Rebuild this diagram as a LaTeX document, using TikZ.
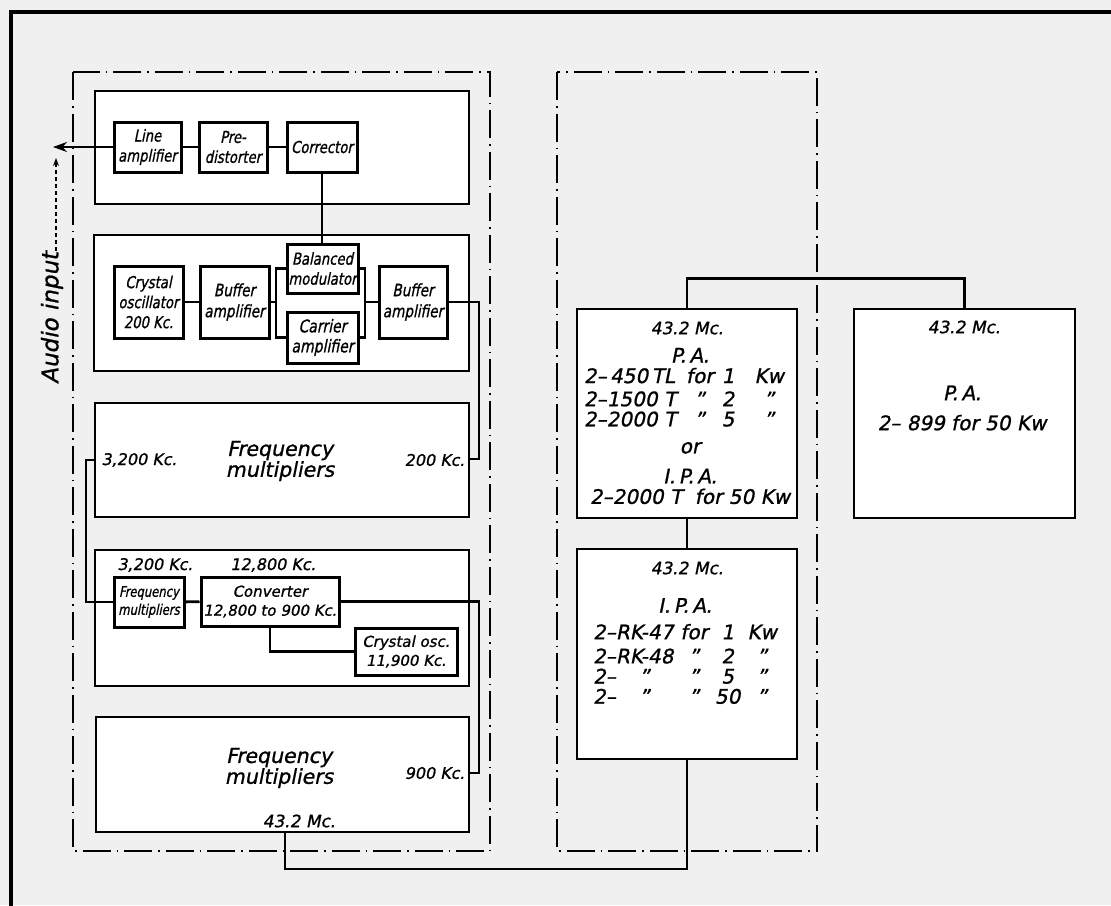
\documentclass[tikz,border=0pt]{standalone}
\usepackage{fontspec}
\setmainfont{DejaVu Sans}[FakeSlant=0.2]
\newfontfamily\letra{DejaVu Sans}[FakeSlant=0.2,FakeBold=1]
\newfontfamily\letraestrecha{DejaVu Sans}[FakeSlant=0.2,FakeStretch=0.8,FakeBold=1]
\usetikzlibrary{arrows.meta}

\begin{document}
\begin{tikzpicture}[x=1pt, y=-1pt, line width=2.8pt, >={Stealth[length=14pt,width=10pt]},
  tam/.style 2 args={minimum width=#1pt, minimum height=#2pt},
  etapa/.style={draw, fill=white, line width=2.3pt, inner sep=0pt},
  caja/.style={draw, fill=white, line width=3pt, inner sep=0pt, align=center,
    font=\letraestrecha\fontsize{16.5}{20}\selectfont},
  texto/.style={inner sep=0pt, align=center, font=\letra\fontsize{16}{18}\selectfont},
  grande/.style={texto, font=\letra\fontsize{20.5}{19}\selectfont},
  frec/.style={texto, font=\letra\fontsize{17}{18}\selectfont},
  tubos/.style={texto, font=\letra\fontsize{20}{21}\selectfont},
  panel/.style={line width=1.5pt, dash pattern=on 28pt off 6pt on 1.5pt off 6pt}]
\useasboundingbox (0,0) rectangle (1111,905);
\clip (0,0) rectangle (1111,905);
\fill [black!6] (0,0) rectangle (1111,905);
\draw [line width=4pt] (11,12) rectangle (1140,940);
% Paneles
\draw [panel] (73,72) rectangle (490,851);
\draw [panel] (557,72) rectangle (817,851);
% Etapas
\node [etapa, tam={374}{113}] (etapaA) at (282,147.5) {};
\node [etapa, tam={375}{136}] (etapaB) at (281.5,303) {};
\node [etapa, tam={374}{114}] (etapaC) at (282,460) {};
\node [etapa, tam={374}{136}] (etapaD) at (282,618) {};
\node [etapa, tam={373}{115}] (etapaE) at (282.5,774.5) {};
\node [etapa, tam={220}{209}] (pa1) at (687,413.5) {};
\node [etapa, tam={221}{209}] (pa2) at (964.5,413.5) {};
\node [etapa, tam={220}{210}] (ipa) at (687,654) {};
% Nodos
\node [caja, tam={67}{50}] (lineamp) at (147.5,147) {Line\\amplifier};
\node [caja, tam={68}{50}] (predist) at (233,147) {Pre-\\distorter};
\node [caja, tam={70}{50}] (corrector) at (322,147) {Corrector};
\node [caja, tam={69}{72}] (xtal) at (148.5,302) {Crystal\\oscillator\\200 Kc.};
\node [caja, tam={69}{72}, font=\letraestrecha\fontsize{17}{21}\selectfont] (buf1) at (234.5,302) {Buffer\\amplifier};
\node [caja, tam={71}{49}] (balmod) at (322.5,268.5) {Balanced\\modulator};
\node [caja, tam={71}{51}, font=\letraestrecha\fontsize{17.5}{20}\selectfont] (carramp) at (322.5,337.5) {Carrier\\amplifier};
\node [caja, tam={68}{72}, font=\letraestrecha\fontsize{17}{21}\selectfont] (buf2) at (413,302) {Buffer\\amplifier};
\node [caja, tam={70}{50}, font=\letraestrecha\fontsize{14.5}{18}\selectfont] (fmsmall) at (149,602) {Frequency\\multipliers};
\node [caja, tam={138}{49}, font=\letra\fontsize{15}{19}\selectfont] (conv) at (270,601.5) {Converter\\12,800 to 900 Kc.};
\node [caja, tam={102}{47}, font=\letra\fontsize{15}{19}\selectfont] (xtalosc) at (406,651.5) {Crystal osc.\\11,900 Kc.};
% Textos
\node [grande] (fmtxtC) at (280,461) {Frequency\\multipliers};
\node [texto, anchor=west] (f3200a) at (100,460) {3,200 Kc.};
\node [texto, anchor=east] (f200) at (466,460) {200 Kc.};
\node [texto] (f3200b) at (155,565) {3,200 Kc.};
\node [texto] (f12800) at (273,565) {12,800 Kc.};
\node [grande] (fmtxtE) at (279,768) {Frequency\\multipliers};
\node [texto, anchor=east] (f900) at (466,773) {900 Kc.};
\node [frec] (f432E) at (299,821) {43.2 Mc.};
\node [frec] (f432a) at (687,328) {43.2 Mc.};
\node [tubos] (tubosA) at (690,429) {%
  \begin{tabular}{@{}l@{\hspace{10pt}}c@{\hspace{8pt}}c@{\hspace{8pt}}c@{}}
  \multicolumn{4}{c}{P.\,A.}\\[-1pt]
  2–\,450\,TL & for & 1 & Kw\\[2pt]
  2–1500 T & ” & 2 & ”\\[-1pt]
  2–2000 T & ” & 5 & ”\\[6pt]
  \multicolumn{4}{c}{or}\\[9pt]
  \multicolumn{4}{c}{I.\,P.\,A.}\\[-1pt]
  \multicolumn{4}{c}{2–2000 T\ \ for 50 Kw}
  \end{tabular}};
\node [frec] (f432b) at (964,327) {43.2 Mc.};
\node [tubos] (tubosB) at (962,408) {P.\,A.\\[9pt]2– 899 for 50 Kw};
\node [frec] (f432c) at (687,568) {43.2 Mc.};
\node [tubos] (tubosC) at (685,654) {%
  \begin{tabular}{@{}l@{}c@{\hspace{7pt}}c@{\hspace{7pt}}c@{\hspace{7pt}}c@{}}
  \multicolumn{5}{c}{I.\,P.\,A.}\\[5pt]
  2– & RK-47 & for & 1 & Kw\\[3pt]
  2– & RK-48 & ” & 2 & ”\\[-1pt]
  2– & ” & ” & 5 & ”\\[-1pt]
  2– & ” & ” & 50 & ”
  \end{tabular}};
\node [texto, rotate=90, font=\letra\fontsize{23}{23}\selectfont] (audio) at (52,318) {Audio input};
% Ejes
% ---
% entrada
% ---
\coordinate (entrada) at (53,147);
\coordinate (audiotip) at (57,158);
\draw [->] (lineamp.west) -- (entrada);
\draw [-{Stealth[length=8pt,width=6pt]}, line width=1.6pt, dash pattern=on 4pt off 3pt]
  ([xshift=4pt]audio.east) -- ([xshift=4pt]audio.east |- audiotip);
\draw (lineamp) -- (predist);
\draw (predist) -- (corrector);
\draw (corrector.south) -- (corrector.south |- balmod.north);
% ---
% modulador
% ---
\coordinate (busL) at (276,302);
\coordinate (busR) at (365,302);
\draw (xtal) -- (buf1);
\draw (buf1.east) -- (busL);
\draw (balmod.west) -| (busL) |- (carramp.west);
\draw (balmod.east) -| (busR) |- (carramp.east);
\draw (busR) -- (buf2.west);
% ---
% multiplicadores
% ---
\coordinate (in200) at (479,459);
\draw (buf2.east) -| (in200) -- (in200 -| etapaC.east);
\coordinate (out3200) at (86,460);
\draw (out3200 -| etapaC.west) -- (out3200) |- (fmsmall.west);
\draw (fmsmall) -- (conv);
\draw (conv.south) |- (xtalosc.west);
\coordinate (in900) at (479,773);
\draw (conv.east) -| (in900) -- (in900 -| etapaE.east);
% ---
% amplificadores
% ---
\coordinate (out432) at (285,869);
\draw (out432 |- etapaE.south) -- (out432) -| (ipa.south);
\draw (pa1.south) -- (ipa.north);
\draw (pa1.north) -- ++(0,-29) -| (pa2.north);
\end{tikzpicture}
\end{document}
